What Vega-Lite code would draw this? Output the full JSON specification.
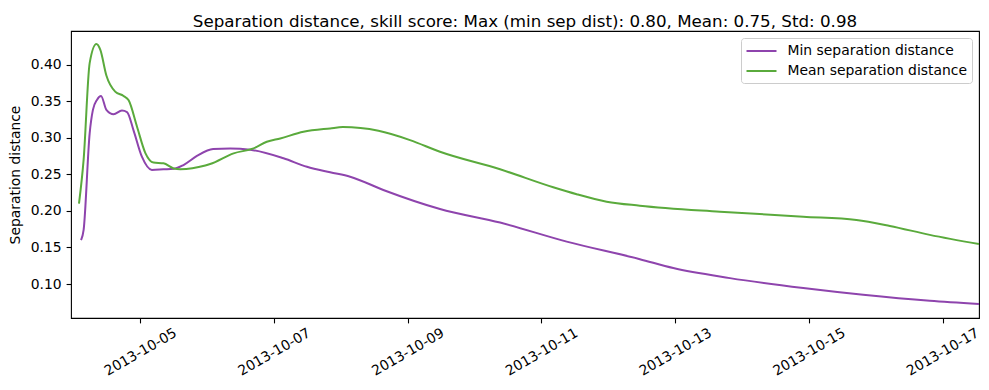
{
  "$schema": "https://vega.github.io/schema/vega-lite/v6.json",
  "width": 908,
  "height": 287,
  "autosize": {"type": "none"},
  "padding": {"left": 71, "top": 31, "right": 10, "bottom": 72},
  "background": "white",
  "title": {
    "text": "Separation distance, skill score: Max (min sep dist): 0.80, Mean: 0.75, Std: 0.98",
    "font": "DejaVu Sans",
    "fontSize": 16.7,
    "fontWeight": "normal",
    "color": "#000000",
    "anchor": "middle",
    "frame": "group",
    "baseline": "alphabetic",
    "offset": -13
  },
  "config": {
    "view": {"stroke": "#000000", "strokeWidth": 1.1},
    "axis": {
      "grid": false,
      "domain": false,
      "tickColor": "#000000",
      "tickWidth": 1.1,
      "tickSize": 4.9,
      "labelFont": "DejaVu Sans",
      "labelFontSize": 13.9,
      "labelColor": "#000000",
      "titleFont": "DejaVu Sans",
      "titleFontSize": 13.9,
      "titleFontWeight": "normal",
      "titleColor": "#000000"
    },
    "legend": {
      "labelFont": "DejaVu Sans",
      "labelFontSize": 13.9,
      "labelColor": "#000000"
    }
  },
  "data": {
    "values": [
      {"time": "2013-10-04T02:45", "series": "Min separation distance", "value": 0.160},
      {"time": "2013-10-04T03:40", "series": "Min separation distance", "value": 0.174},
      {"time": "2013-10-04T05:50", "series": "Min separation distance", "value": 0.306},
      {"time": "2013-10-04T07:00", "series": "Min separation distance", "value": 0.338},
      {"time": "2013-10-04T08:30", "series": "Min separation distance", "value": 0.352},
      {"time": "2013-10-04T09:55", "series": "Min separation distance", "value": 0.357},
      {"time": "2013-10-04T11:50", "series": "Min separation distance", "value": 0.338},
      {"time": "2013-10-04T14:25", "series": "Min separation distance", "value": 0.332},
      {"time": "2013-10-04T17:25", "series": "Min separation distance", "value": 0.337},
      {"time": "2013-10-04T19:15", "series": "Min separation distance", "value": 0.335},
      {"time": "2013-10-04T21:35", "series": "Min separation distance", "value": 0.310},
      {"time": "2013-10-05T00:35", "series": "Min separation distance", "value": 0.274},
      {"time": "2013-10-05T04:10", "series": "Min separation distance", "value": 0.256},
      {"time": "2013-10-05T08:20", "series": "Min separation distance", "value": 0.2568},
      {"time": "2013-10-05T12:00", "series": "Min separation distance", "value": 0.2575},
      {"time": "2013-10-05T15:30", "series": "Min separation distance", "value": 0.2626},
      {"time": "2013-10-05T20:20", "series": "Min separation distance", "value": 0.275},
      {"time": "2013-10-06T02:10", "series": "Min separation distance", "value": 0.2845},
      {"time": "2013-10-06T08:15", "series": "Min separation distance", "value": 0.2852},
      {"time": "2013-10-06T15:30", "series": "Min separation distance", "value": 0.2835},
      {"time": "2013-10-07T03:25", "series": "Min separation distance", "value": 0.2718},
      {"time": "2013-10-07T11:50", "series": "Min separation distance", "value": 0.2603},
      {"time": "2013-10-07T20:10", "series": "Min separation distance", "value": 0.2527},
      {"time": "2013-10-08T03:20", "series": "Min separation distance", "value": 0.2467},
      {"time": "2013-10-08T15:15", "series": "Min separation distance", "value": 0.2286},
      {"time": "2013-10-09T11:35", "series": "Min separation distance", "value": 0.2026},
      {"time": "2013-10-10T09:10", "series": "Min separation distance", "value": 0.184},
      {"time": "2013-10-11T09:05", "series": "Min separation distance", "value": 0.158},
      {"time": "2013-10-12T11:20", "series": "Min separation distance", "value": 0.134},
      {"time": "2013-10-12T23:20", "series": "Min separation distance", "value": 0.1218},
      {"time": "2013-10-13T19:40", "series": "Min separation distance", "value": 0.1081},
      {"time": "2013-10-14T22:00", "series": "Min separation distance", "value": 0.0945},
      {"time": "2013-10-15T19:30", "series": "Min separation distance", "value": 0.0853},
      {"time": "2013-10-16T19:25", "series": "Min separation distance", "value": 0.0771},
      {"time": "2013-10-17T13:05", "series": "Min separation distance", "value": 0.0728},
      {"time": "2013-10-04T02:00", "series": "Mean separation distance", "value": 0.210},
      {"time": "2013-10-04T03:40", "series": "Mean separation distance", "value": 0.270},
      {"time": "2013-10-04T05:50", "series": "Mean separation distance", "value": 0.402},
      {"time": "2013-10-04T08:15", "series": "Mean separation distance", "value": 0.428},
      {"time": "2013-10-04T09:40", "series": "Mean separation distance", "value": 0.420},
      {"time": "2013-10-04T11:50", "series": "Mean separation distance", "value": 0.385},
      {"time": "2013-10-04T15:00", "series": "Mean separation distance", "value": 0.363},
      {"time": "2013-10-04T18:00", "series": "Mean separation distance", "value": 0.357},
      {"time": "2013-10-04T19:50", "series": "Mean separation distance", "value": 0.351},
      {"time": "2013-10-04T22:50", "series": "Mean separation distance", "value": 0.315},
      {"time": "2013-10-05T01:50", "series": "Mean separation distance", "value": 0.279},
      {"time": "2013-10-05T04:45", "series": "Mean separation distance", "value": 0.266},
      {"time": "2013-10-05T08:20", "series": "Mean separation distance", "value": 0.265},
      {"time": "2013-10-05T12:00", "series": "Mean separation distance", "value": 0.258},
      {"time": "2013-10-05T14:20", "series": "Mean separation distance", "value": 0.257},
      {"time": "2013-10-05T23:20", "series": "Mean separation distance", "value": 0.262},
      {"time": "2013-10-06T01:05", "series": "Mean separation distance", "value": 0.264},
      {"time": "2013-10-06T09:30", "series": "Mean separation distance", "value": 0.2786},
      {"time": "2013-10-06T16:40", "series": "Mean separation distance", "value": 0.2854},
      {"time": "2013-10-06T21:25", "series": "Mean separation distance", "value": 0.2944},
      {"time": "2013-10-07T02:15", "series": "Mean separation distance", "value": 0.299},
      {"time": "2013-10-07T10:35", "series": "Mean separation distance", "value": 0.308},
      {"time": "2013-10-07T20:10", "series": "Mean separation distance", "value": 0.3127},
      {"time": "2013-10-08T00:45", "series": "Mean separation distance", "value": 0.3145},
      {"time": "2013-10-08T13:30", "series": "Mean separation distance", "value": 0.3094},
      {"time": "2013-10-09T00:50", "series": "Mean separation distance", "value": 0.2967},
      {"time": "2013-10-09T11:35", "series": "Mean separation distance", "value": 0.2808},
      {"time": "2013-10-10T09:10", "series": "Mean separation distance", "value": 0.2568},
      {"time": "2013-10-11T04:15", "series": "Mean separation distance", "value": 0.2322},
      {"time": "2013-10-11T12:40", "series": "Mean separation distance", "value": 0.2227},
      {"time": "2013-10-11T23:25", "series": "Mean separation distance", "value": 0.2126},
      {"time": "2013-10-12T11:20", "series": "Mean separation distance", "value": 0.2071},
      {"time": "2013-10-13T16:05", "series": "Mean separation distance", "value": 0.1989},
      {"time": "2013-10-14T22:00", "series": "Mean separation distance", "value": 0.1921},
      {"time": "2013-10-15T17:05", "series": "Mean separation distance", "value": 0.1876},
      {"time": "2013-10-16T05:05", "series": "Mean separation distance", "value": 0.1794},
      {"time": "2013-10-16T19:25", "series": "Mean separation distance", "value": 0.1672},
      {"time": "2013-10-17T13:05", "series": "Mean separation distance", "value": 0.1547}
    ]
  },
  "mark": {"type": "line", "interpolate": "monotone", "strokeWidth": 2, "clip": true},
  "encoding": {
    "x": {
      "field": "time",
      "type": "temporal",
      "scale": {
        "domain": [
          {"year": 2013, "month": 10, "date": 3, "hours": 23, "minutes": 8},
          {"year": 2013, "month": 10, "date": 17, "hours": 13, "minutes": 5}
        ]
      },
      "axis": {
        "title": null,
        "values": [
          {"year": 2013, "month": 10, "date": 5},
          {"year": 2013, "month": 10, "date": 7},
          {"year": 2013, "month": 10, "date": 9},
          {"year": 2013, "month": 10, "date": 11},
          {"year": 2013, "month": 10, "date": 13},
          {"year": 2013, "month": 10, "date": 15},
          {"year": 2013, "month": 10, "date": 17}
        ],
        "format": "%Y-%m-%d",
        "labelAngle": -30,
        "labelAlign": "center",
        "labelBaseline": "middle",
        "labelPadding": 29,
        "labelOverlap": false,
        "labelFlush": false
      }
    },
    "y": {
      "field": "value",
      "type": "quantitative",
      "scale": {"domain": [0.0536, 0.4458], "nice": false, "zero": false},
      "axis": {
        "title": "Separation distance",
        "values": [0.10, 0.15, 0.20, 0.25, 0.30, 0.35, 0.40],
        "format": ".2f",
        "labelPadding": 5,
        "titlePadding": 7.5
      }
    },
    "color": {
      "field": "series",
      "type": "nominal",
      "scale": {
        "domain": ["Min separation distance", "Mean separation distance"],
        "range": ["#8E44AD", "#5AAA3C"]
      },
      "legend": {
        "title": null,
        "orient": "top-right",
        "offset": 7,
        "padding": 4.5,
        "fillColor": "rgba(255,255,255,0.8)",
        "strokeColor": "#cccccc",
        "cornerRadius": 3,
        "symbolType": "M-1,0H3",
        "symbolSize": 225,
        "symbolStrokeWidth": 2,
        "labelOffset": 25,
        "rowPadding": 4,
        "labelLimit": 400
      }
    }
  }
}
